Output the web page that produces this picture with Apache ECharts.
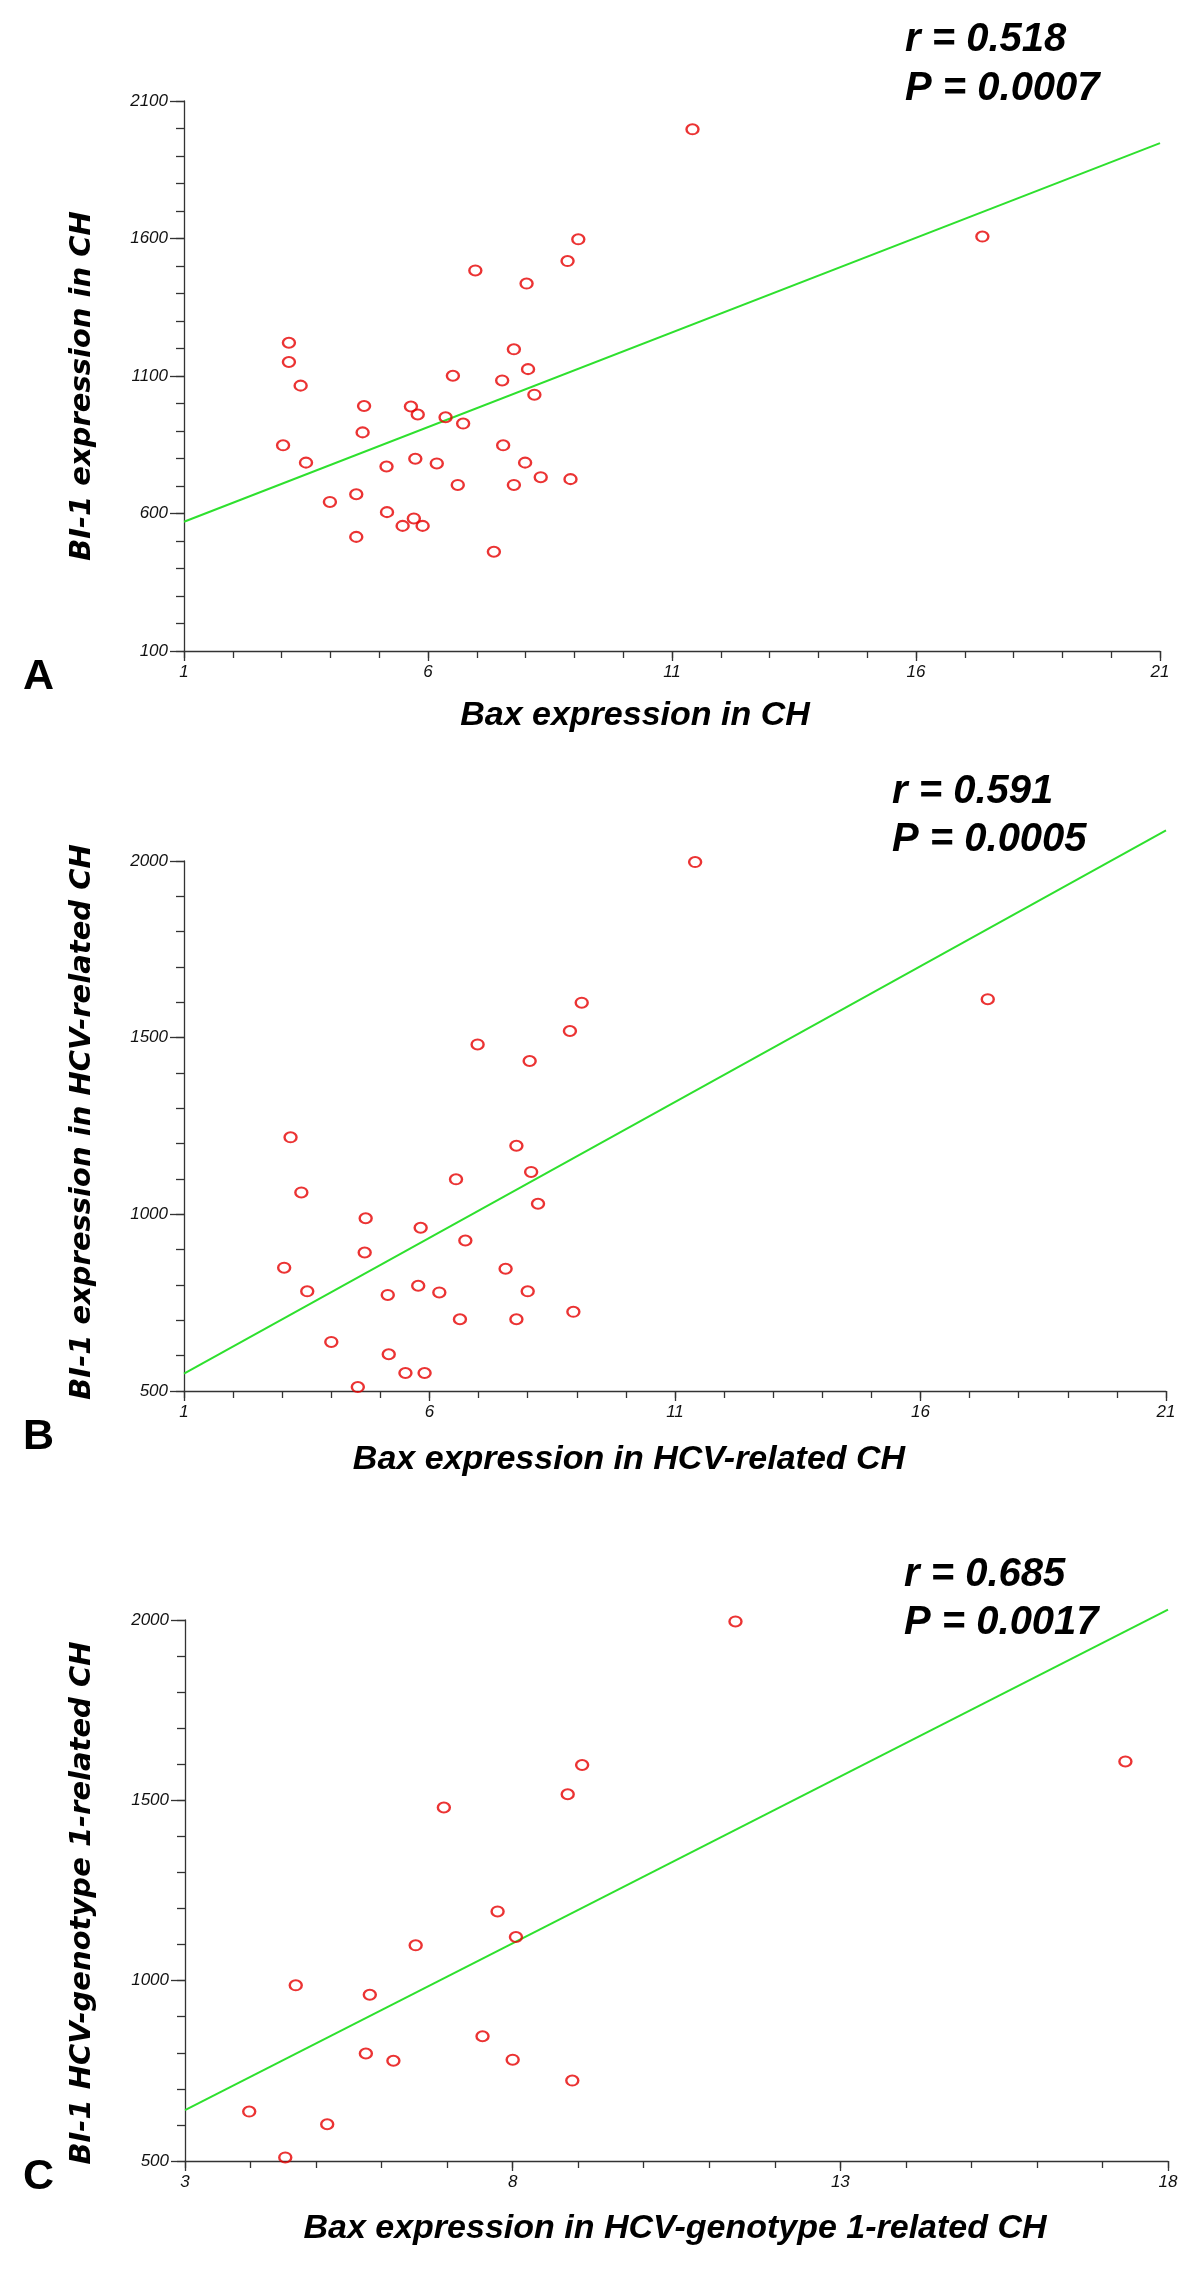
<!DOCTYPE html>
<html>
<head>
<meta charset="utf-8">
<style>
  html, body { margin: 0; padding: 0; background: #ffffff; }
  #chart { width: 1200px; height: 2273px; }
</style>
<script src="https://cdn.jsdelivr.net/npm/echarts@6/dist/echarts.min.js"></script>
</head>
<body>
<div id="chart"></div>
<script>
// ---------- Panel A : Bax vs BI-1 in CH ----------
const aBax = [11.42, 17.36, 9.08, 8.86, 6.97, 8.02, 3.15, 7.76, 3.15, 8.05, 6.51, 7.52, 3.39, 8.18, 4.69, 5.65, 5.79, 6.36, 6.72, 4.66,
              3.03, 7.54, 5.74, 3.50, 7.99, 6.18, 5.15, 8.31, 8.92, 6.61, 7.76, 4.53, 3.99, 5.16, 5.71, 5.48, 5.89, 4.53, 7.35];
const aBI1 = [1997, 1607, 1597, 1518, 1484, 1436, 1221, 1197, 1151, 1125, 1101, 1084, 1065, 1032, 991, 989, 960, 950, 927, 895,
              848, 848, 799, 785, 785, 782, 771, 732, 725, 704, 704, 670, 642, 605, 582, 555, 555, 515, 461];
const aFitX = [1, 21];
const aFitY = [570, 1947];
const aXTicks = [1, 6, 11, 16, 21];
const aYTicks = [100, 600, 1100, 1600, 2100];

// ---------- Panel B : HCV-related CH ----------
const bBax = [11.41, 17.37, 9.10, 8.86, 6.98, 8.04, 3.17, 7.77, 8.07, 6.54, 3.39, 8.21, 4.70, 5.82, 6.73, 4.68,
              3.04, 7.55, 5.77, 3.51, 8.00, 6.20, 5.15, 8.93, 6.62, 7.77, 4.00, 5.17, 5.51, 5.90, 4.54];
const bBI1 = [1997, 1609, 1599, 1519, 1481, 1434, 1218, 1194, 1120, 1099, 1062, 1030, 989, 962, 926, 892,
              849, 846, 798, 782, 782, 779, 772, 724, 703, 703, 639, 604, 551, 551, 511];
const bFitX = [1, 21];
const bFitY = [549, 2087];
const bXTicks = [1, 6, 11, 16, 21];
const bYTicks = [500, 1000, 1500, 2000];

// ---------- Panel C : HCV-genotype 1-related CH ----------
const cBax = [11.40, 17.35, 9.06, 8.84, 6.95, 7.77, 8.05, 6.52, 4.69, 5.82, 7.54, 5.76, 6.18, 8.00, 8.91, 3.98, 5.17, 4.53];
const cBI1 = [1996, 1608, 1598, 1517, 1480, 1192, 1121, 1098, 987, 961, 846, 798, 778, 781, 723, 637, 602, 510];
const cFitX = [3, 18];
const cFitY = [641, 2029];
const cXTicks = [3, 8, 13, 18];
const cYTicks = [500, 1000, 1500, 2000];

const panels = [
  { letter: 'A', xs: aBax, ys: aBI1, fx: aFitX, fy: aFitY, xt: aXTicks, yt: aYTicks,
    r: 'r = 0.518', p: 'P = 0.0007',
    xTitle: 'Bax expression in CH', yTitle: 'BI-1 expression in CH',
    grid: { left: 184, top: 101, width: 976, height: 550 },
    rPos: [905, 40], pPos: [905, 89], letterPos: [23, 677], xTitlePos: [635, 716], yTitlePos: [82, 386] },
  { letter: 'B', xs: bBax, ys: bBI1, fx: bFitX, fy: bFitY, xt: bXTicks, yt: bYTicks,
    r: 'r = 0.591', p: 'P = 0.0005',
    xTitle: 'Bax expression in HCV-related CH', yTitle: 'BI-1 expression in HCV-related CH',
    grid: { left: 184, top: 861, width: 982, height: 530 },
    rPos: [892, 792], pPos: [892, 840], letterPos: [23, 1437], xTitlePos: [629, 1460], yTitlePos: [82, 1122] },
  { letter: 'C', xs: cBax, ys: cBI1, fx: cFitX, fy: cFitY, xt: cXTicks, yt: cYTicks,
    r: 'r = 0.685', p: 'P = 0.0017',
    xTitle: 'Bax expression in HCV-genotype 1-related CH', yTitle: 'BI-1 HCV-genotype 1-related CH',
    grid: { left: 185, top: 1620, width: 983, height: 541 },
    rPos: [904, 1575], pPos: [904, 1623], letterPos: [23, 2177], xTitlePos: [675, 2229], yTitlePos: [82, 1903] }
];

const AXIS_COLOR = '#333333';
const LABEL_FONT = "'Liberation Sans', Arial, sans-serif";
const plainNumber = v => String(v);

const grids = [], xAxes = [], yAxes = [], series = [], graphics = [];

panels.forEach((pn, i) => {
  grids.push(Object.assign({ containLabel: false, outerBoundsMode: 'none' }, pn.grid));
  const xMin = pn.xt[0], xMax = pn.xt[pn.xt.length - 1];
  const yMin = pn.yt[0], yMax = pn.yt[pn.yt.length - 1];

  // base x axis: unit ticks
  xAxes.push({
    type: 'value', gridIndex: i, position: 'bottom', min: xMin, max: xMax, interval: 1,
    axisLine: { show: true, onZero: false, lineStyle: { color: AXIS_COLOR, width: 1.3 } },
    axisTick: { show: true, length: 7, lineStyle: { color: AXIS_COLOR, width: 1.3 } },
    axisLabel: { show: false }, splitLine: { show: false }
  });
  // overlay x axis: labelled ticks
  xAxes.push({
    type: 'value', gridIndex: i, position: 'bottom', min: xMin, max: xMax, interval: 5,
    axisLine: { show: false, onZero: false },
    axisTick: { show: true, length: 10, customValues: pn.xt, lineStyle: { color: AXIS_COLOR, width: 1.3 } },
    axisLabel: { show: true, customValues: pn.xt, margin: 13, showMinLabel: true, showMaxLabel: true,
                 formatter: plainNumber,
                 fontFamily: LABEL_FONT, fontStyle: 'italic', fontSize: 17, color: '#111' },
    splitLine: { show: false }
  });
  // base y axis: ticks every 100
  yAxes.push({
    type: 'value', gridIndex: i, position: 'left', min: yMin, max: yMax, interval: 100,
    axisLine: { show: true, onZero: false, lineStyle: { color: AXIS_COLOR, width: 1.3 } },
    axisTick: { show: true, length: 8, lineStyle: { color: AXIS_COLOR, width: 1.3 } },
    axisLabel: { show: false }, splitLine: { show: false }
  });
  // overlay y axis: labelled ticks
  yAxes.push({
    type: 'value', gridIndex: i, position: 'left', min: yMin, max: yMax, interval: 500,
    axisLine: { show: false, onZero: false },
    axisTick: { show: true, length: 14, customValues: pn.yt, lineStyle: { color: AXIS_COLOR, width: 1.3 } },
    axisLabel: { show: true, customValues: pn.yt, margin: 16, showMinLabel: true, showMaxLabel: true,
                 formatter: plainNumber,
                 fontFamily: LABEL_FONT, fontStyle: 'italic', fontSize: 17, color: '#111' },
    splitLine: { show: false }
  });

  series.push({
    type: 'line', xAxisIndex: i * 2, yAxisIndex: i * 2,
    data: pn.fx.map((x, k) => [x, pn.fy[k]]),
    symbol: 'none', showSymbol: false, clip: false, silent: true,
    lineStyle: { color: '#2ee02e', width: 2 }, z: 2
  });
  series.push({
    type: 'scatter', xAxisIndex: i * 2, yAxisIndex: i * 2,
    data: pn.xs.map((x, k) => [x, pn.ys[k]]),
    symbol: 'circle', symbolSize: [12, 10],
    itemStyle: { color: 'rgba(255,255,255,0)', borderColor: '#e60000', borderWidth: 2.2 }, z: 3
  });

  const statFont = "bold italic 40px 'Liberation Sans', Arial, sans-serif";
  graphics.push({ type: 'text', x: pn.rPos[0], y: pn.rPos[1],
    style: { text: pn.r, font: statFont, fill: '#000', align: 'left', verticalAlign: 'middle' } });
  graphics.push({ type: 'text', x: pn.pPos[0], y: pn.pPos[1],
    style: { text: pn.p, font: statFont, fill: '#000', align: 'left', verticalAlign: 'middle' } });
  graphics.push({ type: 'text', x: pn.letterPos[0], y: pn.letterPos[1],
    style: { text: pn.letter, font: "bold 43px 'Liberation Sans', Arial, sans-serif", fill: '#000',
             align: 'left', verticalAlign: 'middle' } });
  graphics.push({ type: 'text', x: pn.xTitlePos[0], y: pn.xTitlePos[1],
    style: { text: pn.xTitle, font: "bold italic 34px 'Liberation Sans', Arial, sans-serif", fill: '#000',
             align: 'center', verticalAlign: 'middle' } });
  graphics.push({ type: 'text', x: pn.yTitlePos[0], y: pn.yTitlePos[1], rotation: Math.PI / 2,
    style: { text: pn.yTitle, font: "bold italic 29px 'DejaVu Sans', Verdana, sans-serif", fill: '#000',
             align: 'center', verticalAlign: 'middle' } });
});

const chart = echarts.init(document.getElementById('chart'), null, { renderer: 'canvas' });
chart.setOption({
  backgroundColor: '#ffffff',
  animation: false,
  grid: grids,
  xAxis: xAxes,
  yAxis: yAxes,
  series: series,
  graphic: graphics
});
</script>
</body>
</html>
